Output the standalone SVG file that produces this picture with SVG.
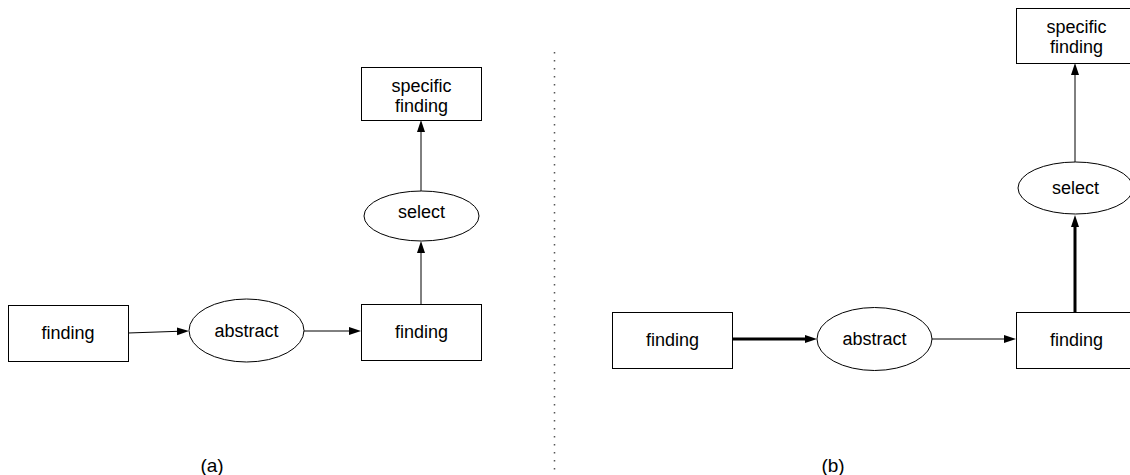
<svg xmlns="http://www.w3.org/2000/svg" width="1130" height="475" viewBox="0 0 1130 475">
  <style>
    .box { fill: #fff; stroke: #000; stroke-width: 1; }
    .oval { fill: #fff; stroke: #000; stroke-width: 1; }
    .lbl { font-family: "Liberation Sans", Arial, sans-serif; font-size: 18px; fill: #000; text-anchor: middle; }
    .cap { font-family: "Liberation Sans", Arial, sans-serif; font-size: 19px; fill: #000; text-anchor: middle; }
    .edge { fill: none; stroke: #000; stroke-width: 1; marker-end: url(#head); }
    .edge.thick { stroke-width: 3; }
    .divider { stroke: #555; stroke-width: 1.5; stroke-dasharray: 1.5 6.5; }
  </style>
  <defs>
    <marker id="head" markerUnits="userSpaceOnUse" markerWidth="13" markerHeight="9" refX="1" refY="4" orient="auto">
      <path d="M0,0 L12,4 L0,8 z" fill="#000"/>
    </marker>
  </defs>
  <rect width="1130" height="475" fill="#fff"/>

  <!-- divider between the two panels -->
  <line class="divider" x1="554.5" y1="52" x2="554.5" y2="470"/>

  <!-- connectors -->
  <g id="connectors">
    <path class="edge" d="M128,333 L178,331.3"/>
    <path class="edge" d="M304,331 L350,331"/>
    <path class="edge" d="M421,304 L421,252"/>
    <path class="edge" d="M421,191 L421,131"/>
    <path class="edge thick" d="M733,339 L806,339"/>
    <path class="edge" d="M932,339 L1005,339"/>
    <path class="edge thick" d="M1075,312 L1075,226"/>
    <path class="edge" d="M1075,162 L1075,74"/>
  </g>

  <!-- panel (a) -->
  <g id="a-finding-start">
    <rect class="box" x="8.5" y="305.5" width="120" height="56"/>
    <text class="lbl" x="68" y="339">finding</text>
  </g>
  <g id="a-abstract">
    <ellipse class="oval" cx="246.5" cy="330.5" rx="57.5" ry="31.5"/>
    <text class="lbl" x="246.5" y="336.5">abstract</text>
  </g>
  <g id="a-finding">
    <rect class="box" x="361.5" y="304.5" width="120" height="56"/>
    <text class="lbl" x="421.5" y="338">finding</text>
  </g>
  <g id="a-select">
    <ellipse class="oval" cx="421.5" cy="216" rx="57.5" ry="25"/>
    <text class="lbl" x="421.5" y="218">select</text>
  </g>
  <g id="a-specific">
    <rect class="box" x="361.5" y="67.5" width="120" height="53"/>
    <text class="lbl" x="421.5" y="92">specific</text>
    <text class="lbl" x="421.5" y="112">finding</text>
  </g>
  <text class="cap" x="212" y="472">(a)</text>

  <!-- panel (b) -->
  <g id="b-finding-start">
    <rect class="box" x="612.5" y="312.5" width="120" height="56"/>
    <text class="lbl" x="672.5" y="346">finding</text>
  </g>
  <g id="b-abstract">
    <ellipse class="oval" cx="874.5" cy="339" rx="57.5" ry="31.5"/>
    <text class="lbl" x="874.5" y="345">abstract</text>
  </g>
  <g id="b-finding">
    <rect class="box" x="1016.5" y="312.5" width="120" height="56"/>
    <text class="lbl" x="1076.5" y="346">finding</text>
  </g>
  <g id="b-select">
    <ellipse class="oval" cx="1075.5" cy="188" rx="57.5" ry="26"/>
    <text class="lbl" x="1075.5" y="194">select</text>
  </g>
  <g id="b-specific">
    <rect class="box" x="1016.5" y="8.5" width="120" height="55"/>
    <text class="lbl" x="1076.5" y="33">specific</text>
    <text class="lbl" x="1076.5" y="53">finding</text>
  </g>
  <text class="cap" x="833" y="472">(b)</text>
</svg>
